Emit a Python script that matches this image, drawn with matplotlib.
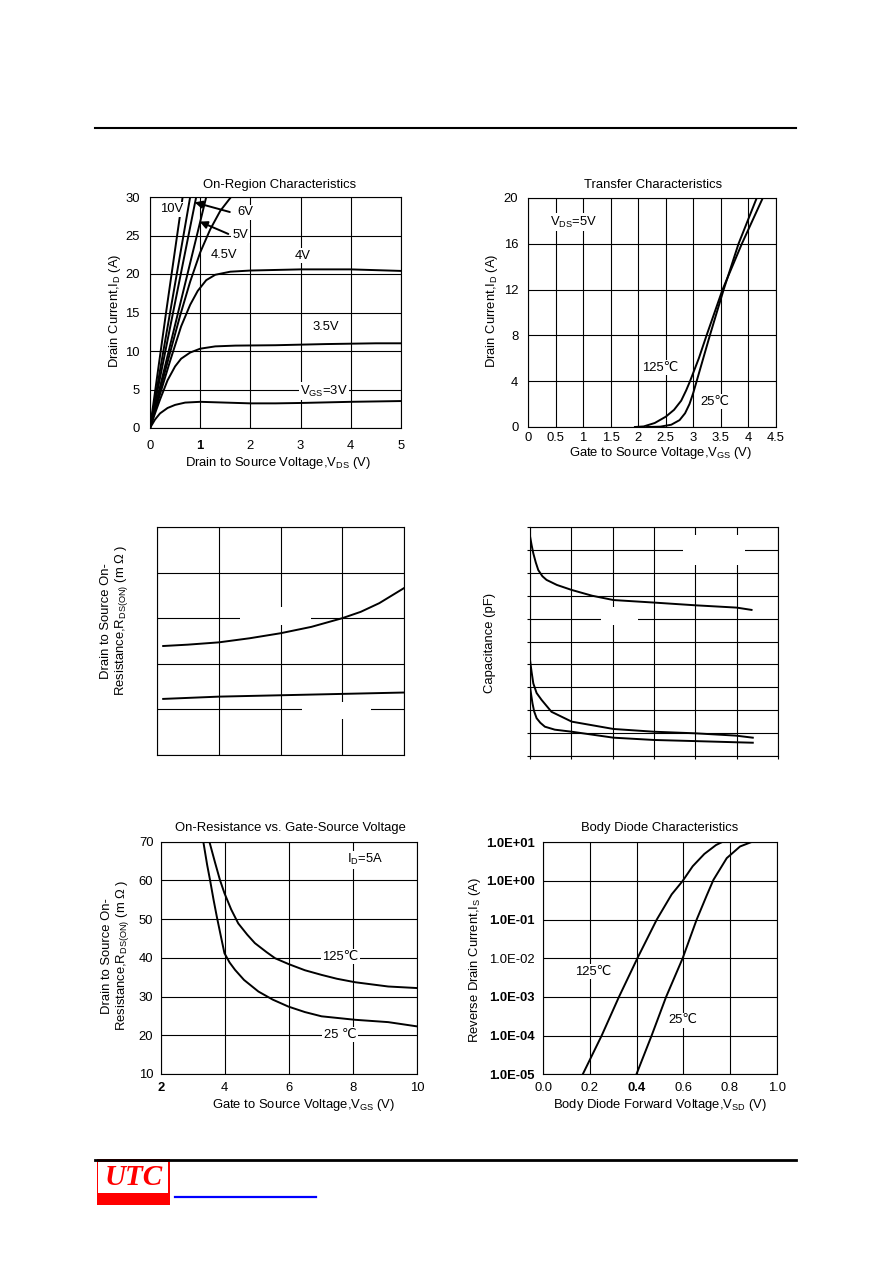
import matplotlib.pyplot as plt
from matplotlib.patches import Rectangle
from matplotlib.lines import Line2D
from matplotlib.ticker import NullLocator

plt.rcParams['font.family'] = ['Liberation Sans', 'DejaVu Sans']
plt.rcParams['mathtext.fontset'] = 'custom'
plt.rcParams['mathtext.rm'] = 'Liberation Sans'
plt.rcParams['mathtext.it'] = 'Liberation Sans:italic'
FS = 9.4
plt.rcParams['font.size'] = FS

# ---------------- data ----------------
# On-Region Characteristics: VDS (V) -> ID (A), one list per VGS
on_vds_10v = [0, 0.32, 0.65]
on_id_10v = [0, 15, 30]
on_vds_8v = [0, 0.4, 0.8]
on_id_8v = [0, 15, 30]
on_vds_6v = [0, 0.46, 0.92]
on_id_6v = [0, 15, 30]
on_vds_5v = [0, 0.56, 1.12]
on_id_5v = [0, 15, 30]
on_vds_45v = [0, 0.2, 0.4, 0.6, 0.8, 1.0, 1.2, 1.4, 1.65]
on_id_45v = [0, 4.9, 9.8, 14.6, 19.0, 22.8, 25.8, 28.2, 30.3]
on_vds_4v = [0, 0.2, 0.4, 0.62, 0.8, 0.95, 1.12, 1.3, 1.6, 2.0, 3.0, 4.0, 5.0]
on_id_4v = [0, 4.4, 8.7, 13.2, 16.0, 17.8, 19.2, 19.9, 20.3, 20.45, 20.6, 20.6, 20.4]
on_vds_35v = [0, 0.1, 0.2, 0.35, 0.5, 0.62, 0.8, 1.0, 1.3, 1.7, 2.5, 3.5, 4.5, 5.0]
on_id_35v = [0, 1.9, 3.7, 6.2, 8.0, 9.0, 9.8, 10.3, 10.6, 10.7, 10.75, 10.9, 11.0, 11.0]
on_vds_3v = [0, 0.1, 0.2, 0.35, 0.5, 0.7, 1.0, 1.5, 2.0, 2.5, 3.0, 4.0, 5.0]
on_id_3v = [0, 1.1, 1.9, 2.6, 3.0, 3.3, 3.4, 3.3, 3.2, 3.2, 3.25, 3.4, 3.5]

# Transfer Characteristics: VGS (V) -> ID (A)
tr_vgs_125 = [1.94, 2.1, 2.3, 2.5, 2.65, 2.78, 2.87, 2.94, 3.1, 3.24, 3.53, 3.88, 4.26]
tr_id_125 = [0, 0.05, 0.35, 0.9, 1.5, 2.3, 3.2, 4.0, 6.0, 8.0, 12.0, 16.0, 20.0]
tr_vgs_25 = [2.16, 2.4, 2.6, 2.75, 2.85, 2.93, 3.0, 3.06, 3.18, 3.3, 3.55, 3.82, 4.15]
tr_id_25 = [0, 0.03, 0.2, 0.6, 1.2, 2.0, 3.0, 4.0, 6.0, 8.0, 12.0, 16.0, 20.0]

# On-resistance chart (scale labels removed in source, grid units)
rds_x_hi = [0.1, 0.5, 1.0, 1.5, 2.0, 2.5, 3.0, 3.3, 3.6, 4.0]
rds_y_hi = [2.39, 2.42, 2.47, 2.56, 2.67, 2.81, 3.0, 3.14, 3.33, 3.66]
rds_x_lo = [0.1, 1.0, 2.0, 3.0, 4.0]
rds_y_lo = [1.23, 1.28, 1.31, 1.34, 1.37]

# Capacitance chart (scale labels removed in source, grid units)
cap_x_iss = [0, 0.04, 0.08, 0.14, 0.2, 0.3, 0.4, 0.65, 1.01, 1.5, 2.02, 3.0, 4.01, 5.0, 5.36]
cap_iss = [9.6, 9.2, 8.85, 8.45, 8.12, 7.85, 7.69, 7.47, 7.25, 7.0, 6.81, 6.7, 6.58, 6.48, 6.38]
cap_x_oss = [0, 0.04, 0.08, 0.16, 0.28, 0.52, 1.01, 2.02, 3.0, 4.01, 4.98, 5.39]
cap_oss = [4.19, 3.65, 3.17, 2.75, 2.45, 1.93, 1.5, 1.18, 1.06, 0.99, 0.89, 0.8]
cap_x_rss = [0, 0.03, 0.06, 0.1, 0.16, 0.25, 0.36, 0.6, 1.01, 2.02, 3.0, 4.01, 4.98, 5.39]
cap_rss = [3.03, 2.65, 2.3, 1.95, 1.65, 1.45, 1.28, 1.15, 1.06, 0.8, 0.7, 0.65, 0.6, 0.58]

# On-Resistance vs. Gate-Source Voltage: VGS (V) -> RDS(ON) (mOhm)
rg_vgs_125 = [3.52, 3.7, 3.85, 3.99, 4.2, 4.42, 4.7, 4.94, 5.3, 5.57, 5.99, 6.5, 7.02, 7.5, 8.07, 9.1, 10.0]
rg_r_125 = [70, 64.5, 60.1, 56.7, 52.5, 48.9, 46.0, 43.8, 41.5, 39.9, 38.4, 36.8, 35.6, 34.6, 33.7, 32.6, 32.2]
rg_vgs_25 = [3.33, 3.45, 3.54, 3.65, 3.75, 3.88, 3.99, 4.15, 4.32, 4.6, 5.05, 5.5, 5.99, 6.5, 7.02, 8.07, 9.1, 10.0]
rg_r_25 = [70, 64, 60.1, 55, 50.7, 45.5, 41.2, 38.8, 36.9, 34.3, 31.3, 29.2, 27.4, 26.0, 24.9, 24.0, 23.4, 22.3]

# Body Diode Characteristics: VSD (V) -> IS (A)
bd_v_125 = [0.169, 0.25, 0.324, 0.403, 0.486, 0.55, 0.597, 0.64, 0.69, 0.74, 0.764]
bd_i_125 = [1e-5, 1e-4, 1e-3, 1e-2, 1e-1, 0.45, 1.0, 2.4, 5.0, 8.5, 10]
bd_v_25 = [0.399, 0.464, 0.526, 0.597, 0.657, 0.7, 0.729, 0.786, 0.843, 0.889]
bd_i_25 = [1e-5, 1e-4, 1e-3, 1e-2, 1e-1, 0.42, 1.07, 3.9, 7.8, 10]
bd_ticks = [1e-5, 1e-4, 1e-3, 1e-2, 1e-1, 1e0, 1e1]
bd_tick_labels = ['1.0E-05', '1.0E-04', '1.0E-03', '1.0E-02', '1.0E-01', '1.0E+00', '1.0E+01']

W, H = 892, 1263


def px_axes(l, t, r, b):
    # axes from pixel box of the page
    return fig.add_axes([l / W, 1 - b / H, (r - l) / W, (b - t) / H])


def grid_box(ax, xlim, ylim, xticks, yticks):
    ax.set_xlim(xlim)
    ax.set_ylim(ylim)
    ax.set_xticks(xticks)
    ax.set_yticks(yticks)
    ax.grid(True, color='k', lw=0.8)
    ax.set_axisbelow(True)
    for s in ax.spines.values():
        s.set_linewidth(0.8)
    ax.tick_params(length=0, labelsize=FS)


def labels(ax, xl, xpos, yl, ypos):
    if xl:
        ax.set_xlabel(xl, fontsize=FS, va='center', ha='center')
        ax.xaxis.set_label_coords(*xpos)
    ax.set_ylabel(yl, fontsize=FS, va='center', ha='center', linespacing=1.15)
    ax.yaxis.set_label_coords(*ypos)


curve = dict(color='k', lw=1.4)
white = dict(facecolor='white', edgecolor='none', pad=1)

fig = plt.figure(figsize=(W / 100, H / 100), dpi=100)

# page rules
fig.add_artist(Line2D([95 / W, 796 / W], [1 - 128 / H] * 2, color='k', lw=1.5))
fig.add_artist(Line2D([95 / W, 796 / W], [1 - 1160 / H] * 2, color='k', lw=2))

# ---------- On-Region Characteristics ----------
ax1 = px_axes(150, 197, 401, 428)
grid_box(ax1, (0, 5), (0, 30), range(0, 6), range(0, 31, 5))
ax1.tick_params(axis='x', pad=8.5)
ax1.tick_params(axis='y', pad=7.5)
for vx, iy in [(on_vds_10v, on_id_10v), (on_vds_8v, on_id_8v), (on_vds_6v, on_id_6v),
               (on_vds_5v, on_id_5v), (on_vds_45v, on_id_45v), (on_vds_4v, on_id_4v),
               (on_vds_35v, on_id_35v), (on_vds_3v, on_id_3v)]:
    ax1.plot(vx, iy, **curve)
arr = dict(arrowstyle='-|>', color='k', lw=1.4, mutation_scale=11, shrinkA=0, shrinkB=0)
ax1.annotate('', xy=(0.89, 29.3), xytext=(1.59, 28.05), arrowprops=arr)
ax1.annotate('', xy=(0.99, 26.8), xytext=(1.56, 25.2), arrowprops=arr)
ax1.text(0.42, 28.4, '10V', ha='center', va='center', bbox=white)
ax1.text(1.89, 28.0, '6V', ha='center', va='center', bbox=white)
ax1.text(1.80, 25.0, '5V', ha='center', va='center', bbox=white)
ax1.text(1.48, 22.5, '4.5V', ha='center', va='center', bbox=white)
ax1.text(3.04, 22.4, '4V', ha='center', va='center', bbox=white)
ax1.text(3.5, 13.1, '3.5V', ha='center', va='center', bbox=white)
ax1.text(3.47, 4.8, 'V$_\\mathregular{GS}$=3V', ha='center', va='center', bbox=white)
ax1.text(0.518, 1.052, 'On-Region Characteristics', transform=ax1.transAxes,
         ha='center', va='center')
ax1.get_xticklabels()[1].set_fontweight('bold')
labels(ax1, 'Drain to Source Voltage,V$_\\mathregular{DS}$ (V)', (0.508, -0.15),
       'Drain Current,I$_\\mathregular{D}$ (A)', (-0.139, 0.507))

# ---------- Transfer Characteristics ----------
ax2 = px_axes(528, 198, 776, 427)
grid_box(ax2, (0, 4.5), (0, 20), [0, 0.5, 1, 1.5, 2, 2.5, 3, 3.5, 4, 4.5], range(0, 21, 4))
ax2.set_xticklabels(['0', '0.5', '1', '1.5', '2', '2.5', '3', '3.5', '4', '4.5'])
ax2.tick_params(axis='x', pad=3.5)
ax2.tick_params(axis='y', pad=7)
ax2.plot(tr_vgs_125, tr_id_125, **curve)
ax2.plot(tr_vgs_25, tr_id_25, **curve)
ax2.text(0.83, 17.9, 'V$_\\mathregular{DS}$=5V', ha='center', va='center', bbox=white)
ax2.text(2.4, 5.2, '125℃', ha='center', va='center', bbox=white)
ax2.text(3.39, 2.2, '25℃', ha='center', va='center', bbox=white)
ax2.text(0.505, 1.057, 'Transfer Characteristics', transform=ax2.transAxes,
         ha='center', va='center')
labels(ax2, 'Gate to Source Voltage,V$_\\mathregular{GS}$ (V)', (0.536, -0.112),
       'Drain Current,I$_\\mathregular{D}$ (A)', (-0.146, 0.507))

# ---------- On-resistance (unlabelled scale) ----------
ax3 = px_axes(157, 527, 404, 755)
grid_box(ax3, (0, 4), (0, 5), range(0, 5), range(0, 6))
ax3.tick_params(labelbottom=False, labelleft=False)
# erased label spots in the source
ax3.add_patch(Rectangle((1.34, 2.85), 1.16, 0.4, facecolor='white', edgecolor='none', zorder=1))
ax3.add_patch(Rectangle((2.35, 0.8), 1.12, 0.37, facecolor='white', edgecolor='none', zorder=1))
ax3.plot(rds_x_hi, rds_y_hi, **curve)
ax3.plot(rds_x_lo, rds_y_lo, **curve)
labels(ax3, None, None,
       'Drain to Source On-\nResistance,R$_\\mathregular{DS(ON)}$ (m Ω )', (-0.170, 0.589))

# ---------- Capacitance (unlabelled scale) ----------
ax4 = px_axes(530, 527, 778, 756)
grid_box(ax4, (0, 6), (0, 10), range(0, 7), range(0, 11))
ax4.tick_params(labelbottom=False, labelleft=False, length=2.5, width=0.8, direction='out')
ax4.add_patch(Rectangle((3.69, 8.34), 1.51, 1.31, facecolor='white', edgecolor='none', zorder=1))
ax4.add_patch(Rectangle((1.72, 5.72), 0.9, 0.8, facecolor='white', edgecolor='none', zorder=1))
ax4.plot(cap_x_iss, cap_iss, **curve)
ax4.plot(cap_x_oss, cap_oss, **curve)
ax4.plot(cap_x_rss, cap_rss, **curve)
labels(ax4, None, None, 'Capacitance (pF)', (-0.161, 0.492))

# ---------- On-Resistance vs. Gate-Source Voltage ----------
ax5 = px_axes(160.7, 841.7, 417, 1074)
grid_box(ax5, (2, 10), (10, 70), range(2, 11, 2), range(10, 71, 10))
ax5.tick_params(axis='x', pad=5.5)
ax5.tick_params(axis='y', pad=5.3)
ax5.plot(rg_vgs_125, rg_r_125, **curve)
ax5.plot(rg_vgs_25, rg_r_25, **curve)
ax5.text(8.38, 65.3, 'I$_\\mathregular{D}$=5A', ha='center', va='center', bbox=white)
ax5.text(7.6, 40.3, '125℃', ha='center', va='center', bbox=white)
ax5.text(7.6, 20.1, '25 ℃', ha='center', va='center', bbox=white)
ax5.text(0.505, 1.059, 'On-Resistance vs. Gate-Source Voltage', transform=ax5.transAxes,
         ha='center', va='center')
ax5.get_xticklabels()[0].set_fontweight('bold')
labels(ax5, 'Gate to Source Voltage,V$_\\mathregular{GS}$ (V)', (0.556, -0.133),
       'Drain to Source On-\nResistance,R$_\\mathregular{DS(ON)}$ (m Ω )', (-0.175, 0.509))

# ---------- Body Diode Characteristics ----------
ax6 = px_axes(543.3, 842.3, 776.7, 1074.3)
ax6.set_yscale('log')
grid_box(ax6, (0, 1.0), (1e-5, 10), [0, 0.2, 0.4, 0.6, 0.8, 1.0], bd_ticks)
ax6.yaxis.set_minor_locator(NullLocator())
ax6.set_yticklabels(bd_tick_labels)
ax6.set_xticklabels(['0.0', '0.2', '0.4', '0.6', '0.8', '1.0'])
ax6.tick_params(axis='x', pad=5.5)
ax6.tick_params(axis='y', pad=6)
ax6.plot(bd_v_125, bd_i_125, **curve)
ax6.plot(bd_v_25, bd_i_25, **curve)
ax6.text(0.214, 10 ** -2.34, '125℃', ha='center', va='center', bbox=white)
ax6.text(0.6, 10 ** -3.6, '25℃', ha='center', va='center', bbox=white)
ax6.text(0.497, 1.06, 'Body Diode Characteristics', transform=ax6.transAxes,
         ha='center', va='center')
for i, t in enumerate(ax6.get_yticklabels()):
    if i != 3:
        t.set_fontweight('bold')
ax6.get_xticklabels()[2].set_fontweight('bold')
labels(ax6, 'Body Diode Forward Voltage,V$_\\mathregular{SD}$ (V)', (0.5, -0.132),
       'Reverse Drain Current,I$_\\mathregular{S}$ (A)', (-0.293, 0.493))

# ---------- footer logo ----------
fig.add_artist(Rectangle((96.7 / W, 1 - 1205 / H), 73.3 / W, 46 / H,
                         facecolor='red', edgecolor='none', transform=fig.transFigure))
fig.add_artist(Rectangle((98.3 / W, 1 - 1193.3 / H), 70 / W, 31.6 / H,
                         facecolor='white', edgecolor='none', transform=fig.transFigure))
fig.text(133.3 / W, 1 - 1177.5 / H, 'UTC', color='red', fontsize=21, fontweight='bold',
         fontstyle='italic', family='Liberation Serif', ha='center', va='center')
fig.add_artist(Line2D([175 / W, 316 / W], [1 - 1196.7 / H] * 2, color='blue', lw=1.6))

fig.savefig('out.png', dpi=100)
